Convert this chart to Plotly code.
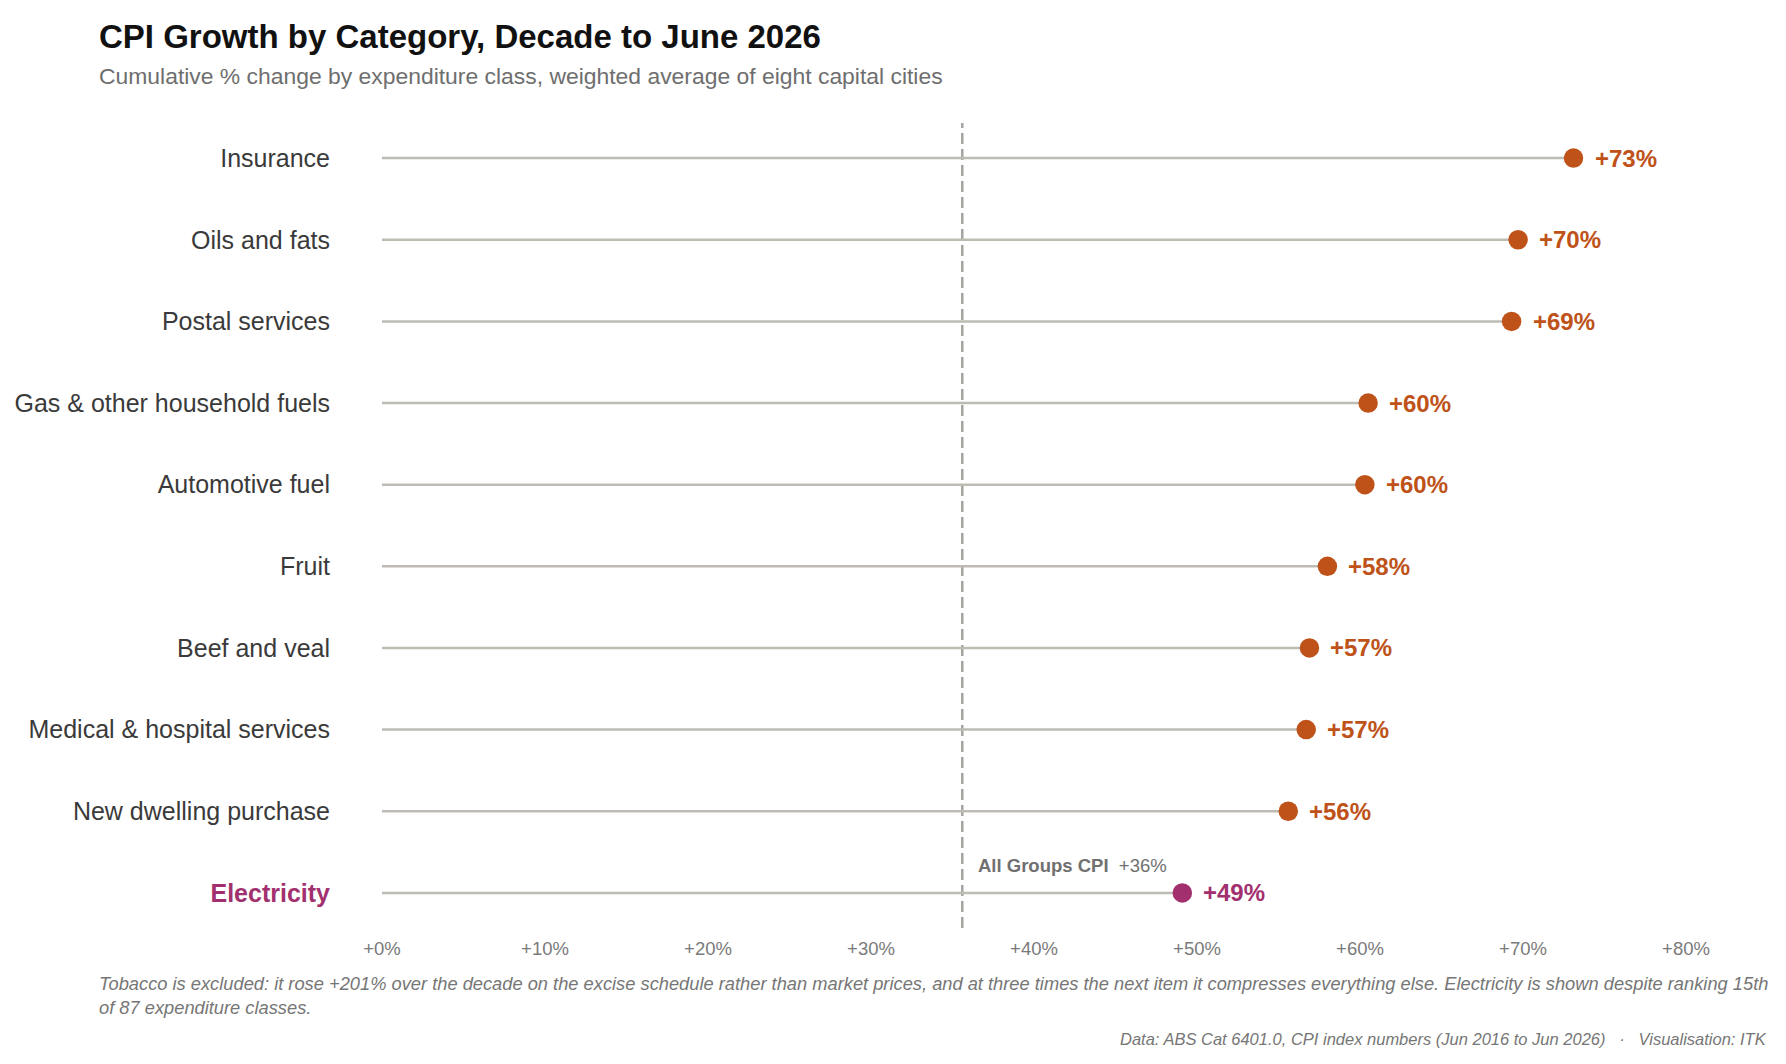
import plotly.graph_objects as go

# dados
categorias = ['Insurance', 'Oils and fats', 'Postal services', 'Gas & other household fuels',
              'Automotive fuel', 'Fruit', 'Beef and veal', 'Medical & hospital services',
              'New dwelling purchase', 'Electricity']
variacao = [73.1, 69.7, 69.3, 60.5, 60.3, 58.0, 56.9, 56.7, 55.6, 49.1]
destaque = 'Electricity'
all_groups = 35.6
ticks_x = [0, 10, 20, 30, 40, 50, 60, 70, 80]
tick_txt = ['+0%', '+10%', '+20%', '+30%', '+40%', '+50%', '+60%', '+70%', '+80%']

titulo = 'CPI Growth by Category, Decade to June 2026'
subtitulo = 'Cumulative % change by expenditure class, weighted average of eight capital cities'
nota = ('Tobacco is excluded: it rose +201% over the decade on the excise schedule rather than market prices, '
        'and at three times the next item it compresses everything else. Electricity is shown despite ranking 15th'
        '<br>of 87 expenditure classes.')
fonte = 'Data: ABS Cat 6401.0, CPI index numbers (Jun 2016 to Jun 2026)   \u00b7   Visualisation: ITK'

LARANJA = '#BE5219'
MAGENTA = '#A2306F'
FONTE = 'Liberation Sans, Arial, sans-serif'

# a pagina tem margem de 8px no body -> figura um pouco menor e tudo deslocado
OFF = 8
W, H = 1786 - 2 * OFF, 1064 - 2 * OFF
ML, MT = 382 - OFF, 123 - OFF
MR = W - (1686 - OFF)
MB = H - (928 - OFF)


def px_x(px):
    return (px - OFF - ML) / (W - ML - MR)


def px_y(py):
    return (H - MB - (py - OFF)) / (H - MT - MB)


ys = list(range(len(categorias)))
cores = [MAGENTA if c == destaque else LARANJA for c in categorias]

# hastes
sx, sy = [], []
for y, v in zip(ys, variacao):
    sx += [0, v, None]
    sy += [y, y, None]

fig = go.Figure()
fig.add_trace(go.Scatter(x=sx, y=sy, mode='lines', line=dict(color='#BDBBB2', width=2.5),
                         hoverinfo='skip', showlegend=False))
fig.add_trace(go.Scatter(x=variacao, y=ys, mode='markers',
                         marker=dict(color=cores, size=19.5, line=dict(width=0)),
                         showlegend=False))

fig.add_shape(type='line', x0=all_groups, x1=all_groups, y0=0, y1=1, xref='x', yref='paper',
              line=dict(color='#A5A5A0', width=2.5, dash='11px,5px'), layer='below')

for y, v, c in zip(ys, variacao, cores):
    fig.add_annotation(x=v, y=y, text=f'<b>+{round(v)}%</b>', showarrow=False,
                       xanchor='left', yanchor='middle', xshift=19,
                       font=dict(family=FONTE, size=24, color=c))

fig.add_annotation(x=all_groups, y=ys[-1], text=f'<b>All Groups CPI</b>\u00a0\u00a0+{round(all_groups)}%',
                   showarrow=False, xanchor='left', yanchor='middle', xshift=14, yshift=27,
                   font=dict(family=FONTE, size=18.5, color='#707070'))

ticktext = [f'<b><span style="color:{MAGENTA}">{c}</span></b>' if c == destaque else c for c in categorias]

fig.update_yaxes(range=[len(categorias) - 1 + 0.43, -0.43], tickvals=ys, ticktext=ticktext,
                 showgrid=False, zeroline=False, showline=False, ticks='', ticklabelstandoff=51,
                 automargin=False, tickfont=dict(family=FONTE, size=25, color='#3A3A3A'))
fig.update_xaxes(range=[0, 80], tickvals=ticks_x, ticktext=tick_txt, showgrid=False,
                 zeroline=False, showline=False, ticks='', ticklabelstandoff=7,
                 automargin=False, tickfont=dict(family=FONTE, size=18.5, color='#7A7A7A'))

fig.add_annotation(text=f'<b>{titulo}</b>', x=px_x(97), y=px_y(36), xref='paper', yref='paper',
                   xanchor='left', yanchor='middle', showarrow=False,
                   font=dict(family=FONTE, size=33, color='#111111'))
fig.add_annotation(text=subtitulo, x=px_x(97), y=px_y(76), xref='paper', yref='paper',
                   xanchor='left', yanchor='middle', showarrow=False,
                   font=dict(family=FONTE, size=22.9, color='#6E6E6E'))
fig.add_annotation(text=f'<i>{nota}</i>', x=px_x(97), y=px_y(996), xref='paper', yref='paper',
                   xanchor='left', yanchor='middle', align='left', showarrow=False,
                   font=dict(family=FONTE, size=18.3, color='#767676'))
fig.add_annotation(text=f'<i>{fonte}</i>', x=px_x(1769), y=px_y(1039), xref='paper', yref='paper',
                   xanchor='right', yanchor='middle', align='right', showarrow=False,
                   font=dict(family=FONTE, size=16.5, color='#767676'))

fig.update_layout(autosize=False, width=W, height=H, margin=dict(l=ML, r=MR, t=MT, b=MB),
                  plot_bgcolor='white', paper_bgcolor='white', font=dict(family=FONTE),
                  hovermode=False)
fig.write_html('out.html')
